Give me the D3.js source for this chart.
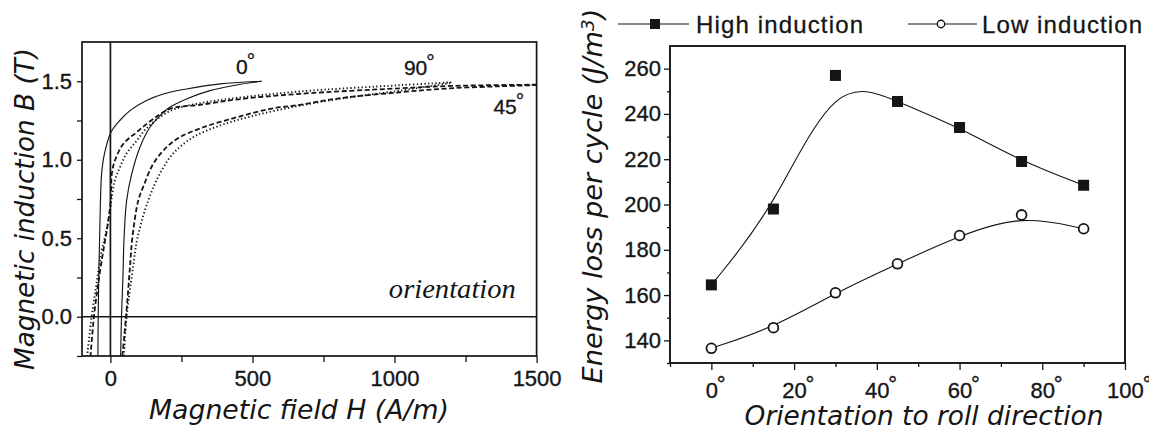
<!DOCTYPE html>
<html><head><meta charset="utf-8">
<script src="https://cdn.jsdelivr.net/npm/d3@7"></script>
<style>body{margin:0;background:#fff}svg{display:block}</style>
</head><body>
<svg id="c" width="1149" height="430"></svg>
<script>
// ---------- LEFT PANEL DATA (H in A/m, B in T) ----------
const hDomain = [-100, 1500];
const bDomain = [-0.25, 1.75];
const hMajor = [0, 500, 1000, 1500];
const hMinor = [250, 750, 1250];
const bMajor = [0, 0.5, 1.0, 1.5];
const bMinor = [-0.25, 0.25, 0.75, 1.25];

const loop0Asc = [[36,-0.25],[39,0],[44,0.25],[48,0.5],[57,0.74],[75,0.91],[104,1.08],[139,1.207],[174,1.28],[209,1.334],[268,1.387],[350,1.44],[444,1.476],[532,1.5]];
const loop0Desc = [[532,1.5],[386,1.483],[268,1.451],[186,1.419],[127,1.377],[69,1.313],[33,1.25],[2,1.175],[-22,1.03],[-31,0.91],[-35,0.74],[-38,0.5],[-41,0.25],[-43,0],[-44,-0.25]];
const loop45Asc = [[42,-0.25],[55,0],[69,0.32],[77,0.5],[98,0.74],[116,0.83],[151,0.975],[198,1.08],[245,1.144],[327,1.207],[444,1.27],[562,1.324],[667,1.35],[800,1.39],[1019,1.43],[1195,1.455],[1371,1.468],[1500,1.476]];
const loop45Desc = [[1500,1.478],[1195,1.47],[1019,1.455],[667,1.42],[450,1.385],[315,1.35],[209,1.324],[151,1.26],[92,1.175],[45,1.10],[16,0.995],[5,0.91],[1,0.74],[-10,0.58],[-25,0.42],[-43,0.21],[-58,0],[-70,-0.25]];
const loop90Asc = [[48,-0.25],[57,0],[80,0.32],[95,0.5],[133,0.74],[174,0.911],[221,1.04],[292,1.144],[386,1.218],[503,1.28],[667,1.345],[850,1.40],[1019,1.44],[1200,1.49]];
const loop90Desc = [[1200,1.493],[1019,1.475],[667,1.435],[450,1.395],[315,1.36],[209,1.31],[127,1.20],[92,1.12],[57,1.04],[33,0.95],[16,0.87],[7,0.79],[-1,0.68],[-14,0.55],[-31,0.42],[-49,0.21],[-66,0],[-82,-0.25]];

const loops = [
  {name:"0°",  asc: loop0Asc,  desc: loop0Desc,  style:"solid"},
  {name:"45°", asc: loop45Asc, desc: loop45Desc, style:"dashed"},
  {name:"90°", asc: loop90Asc, desc: loop90Desc, style:"dotted"}
];
const loopLabels = [
  {text:"0", h:442, b:1.545},
  {text:"90", h:1033, b:1.54},
  {text:"45", h:1348, b:1.29}
];
const noteText = "orientation";
const noteAt = {h:980, b:0.12};

// ---------- RIGHT PANEL DATA ----------
const angles = [0, 15, 30, 45, 60, 75, 90];
const highInduction = [164.5, 198, 257, 245.5, 234, 219, 208.5];
const lowInduction  = [136.5, 145.6, 161, 173.8, 186.3, 195.4, 189.3];
const angleDomain = [-10, 100];
const energyDomain = [130, 270];
const angleMajor = [0, 20, 40, 60, 80, 100];
const angleMinor = [-10, 10, 30, 50, 70, 90];
const energyMajor = [140, 160, 180, 200, 220, 240, 260];
const energyMinor = [130, 150, 170, 190, 210, 230, 250];
const seriesNames = ["High induction", "Low induction"];

// ---------- DRAW ----------
const ink = "#151515";
const SANS = "'Liberation Sans', Arial, sans-serif";
const TITLE = "'DejaVu Sans', Verdana, sans-serif";
const svg = d3.select("#c");

function fitWidth(sel, target) {
  const n = sel.node();
  const len = n.getComputedTextLength();
  const fs = parseFloat(sel.attr("font-size"));
  sel.attr("font-size", (fs * target / len).toFixed(2));
}
function styleAxis(g, size) {
  g.select(".domain").remove();
  g.selectAll("line").attr("stroke", ink).attr("stroke-width", 1.3);
  g.selectAll("text").attr("fill", ink).attr("font-family", SANS).attr("font-size", size)
    .attr("stroke", ink).attr("stroke-width", 0.35);
  g.attr("font-family", null).attr("font-size", null);
}

// ===== Left panel =====
const xL = d3.scaleLinear().domain(hDomain).range([82, 536.6]);
const yL = d3.scaleLinear().domain(bDomain).range([356, 42]);
const L = svg.append("g");

L.append("clipPath").attr("id","clipL").append("rect")
  .attr("x", xL(hDomain[0])).attr("y", yL(bDomain[1]))
  .attr("width", xL(hDomain[1]) - xL(hDomain[0])).attr("height", yL(bDomain[0]) - yL(bDomain[1]));

L.append("g").attr("transform", `translate(0,${yL(bDomain[0])})`)
  .call(d3.axisBottom(xL).tickValues(hMajor).tickSize(7).tickPadding(7).tickFormat(d3.format("d")))
  .call(g => styleAxis(g, 22));
L.append("g").attr("transform", `translate(0,${yL(bDomain[0])})`)
  .call(d3.axisBottom(xL).tickValues(hMinor).tickSize(6).tickFormat(""))
  .call(g => styleAxis(g, 22));
L.append("g").attr("transform", `translate(${xL(hDomain[0])},0)`)
  .call(d3.axisLeft(yL).tickValues(bMajor).tickSize(5).tickPadding(5).tickFormat(d3.format(".1f")))
  .call(g => styleAxis(g, 22));
L.append("g").attr("transform", `translate(${xL(hDomain[0])},0)`)
  .call(d3.axisLeft(yL).tickValues(bMinor).tickSize(5).tickFormat(""))
  .call(g => styleAxis(g, 22));

L.append("rect").attr("x", xL(hDomain[0])).attr("y", yL(bDomain[1]))
  .attr("width", xL(hDomain[1]) - xL(hDomain[0])).attr("height", yL(bDomain[0]) - yL(bDomain[1]))
  .attr("fill","none").attr("stroke", ink).attr("stroke-width", 1.7);
L.append("line").attr("x1", xL(hDomain[0])).attr("x2", xL(hDomain[1])).attr("y1", yL(0)).attr("y2", yL(0))
  .attr("stroke", ink).attr("stroke-width", 1.7);
L.append("line").attr("x1", xL(0)).attr("x2", xL(0)).attr("y1", yL(bDomain[0])).attr("y2", yL(bDomain[1]))
  .attr("stroke", ink).attr("stroke-width", 1.7);

const lineL = d3.line().x(d => xL(d[0])).y(d => yL(d[1])).curve(d3.curveCatmullRom.alpha(0.5));
const dash = {solid: null, dashed: "5,2.6", dotted: "1.3,2.4"};
const width = {solid: 1.15, dashed: 1.8, dotted: 1.9};
const curvesG = L.append("g").attr("clip-path", "url(#clipL)");
loops.forEach(lp => {
  [lp.asc, lp.desc].forEach(br => {
    curvesG.append("path").attr("d", lineL(br)).attr("fill","none")
      .attr("stroke", ink).attr("stroke-width", width[lp.style])
      .attr("stroke-dasharray", dash[lp.style]);
  });
});

loopLabels.forEach(lb => {
  const t = L.append("text").attr("x", xL(lb.h)).attr("y", yL(lb.b))
    .attr("font-family", SANS).attr("font-size", 21).attr("fill", ink)
    .attr("stroke", ink).attr("stroke-width", 0.3).text(lb.text);
  t.append("tspan").attr("dy", "-0.3em").attr("dx", "-0.05em").text("°");
});
L.append("text").attr("x", xL(noteAt.h)).attr("y", yL(noteAt.b))
  .attr("font-family", "'Liberation Serif', 'Times New Roman', serif").attr("font-style","italic")
  .attr("font-size", 28).attr("fill", ink).attr("textLength", 127).attr("lengthAdjust","spacingAndGlyphs")
  .text(noteText);

const tx1 = L.append("text").attr("x", 299).attr("y", 419).attr("text-anchor","middle")
  .attr("font-family", TITLE).attr("font-style","italic").attr("font-size", 26).attr("fill", ink)
  .text("Magnetic field H (A/m)");
fitWidth(tx1, 300);
const ty1 = L.append("text").attr("transform","translate(34,209) rotate(-90)").attr("text-anchor","middle")
  .attr("font-family", TITLE).attr("font-style","italic").attr("font-size", 26).attr("fill", ink)
  .text("Magnetic induction B (T)");
fitWidth(ty1, 322);

// ===== Right panel =====
const xR = d3.scaleLinear().domain(angleDomain).range([670, 1125]);
const yR = d3.scaleLinear().domain(energyDomain).range([363, 46]);
const R = svg.append("g");

R.append("g").attr("transform", `translate(0,${yR(energyDomain[0])})`)
  .call(d3.axisBottom(xR).tickValues(angleMajor).tickSize(7).tickPadding(12).tickFormat(d3.format("d")))
  .call(g => styleAxis(g, 22))
  .call(g => g.selectAll(".tick text").attr("dx", "0.17em").append("tspan").attr("dy","-0.25em").attr("dx","-0.05em").text("°"));
R.append("g").attr("transform", `translate(0,${yR(energyDomain[0])})`)
  .call(d3.axisBottom(xR).tickValues(angleMinor).tickSize(4).tickFormat(""))
  .call(g => styleAxis(g, 22));
R.append("g").attr("transform", `translate(${xR(angleDomain[0])},0)`)
  .call(d3.axisLeft(yR).tickValues(energyMajor).tickSize(6).tickPadding(3).tickFormat(d3.format("d")))
  .call(g => styleAxis(g, 22));
R.append("g").attr("transform", `translate(${xR(angleDomain[0])},0)`)
  .call(d3.axisLeft(yR).tickValues(energyMinor).tickSize(3).tickFormat(""))
  .call(g => styleAxis(g, 22));

R.append("rect").attr("x", xR(angleDomain[0])).attr("y", yR(energyDomain[1]))
  .attr("width", xR(angleDomain[1]) - xR(angleDomain[0])).attr("height", yR(energyDomain[0]) - yR(energyDomain[1]))
  .attr("fill","none").attr("stroke", ink).attr("stroke-width", 1.9);

const lineR = d3.line().x((d,i) => xR(angles[i])).y(d => yR(d)).curve(d3.curveBasis);
R.append("path").attr("d", lineR(highInduction)).attr("fill","none").attr("stroke", ink).attr("stroke-width", 1.1);
R.append("path").attr("d", lineR(lowInduction)).attr("fill","none").attr("stroke", ink).attr("stroke-width", 1.1);

const sq = 11;
R.selectAll(".sq").data(highInduction).enter().append("rect")
  .attr("x", (d,i) => xR(angles[i]) - sq/2).attr("y", d => yR(d) - sq/2)
  .attr("width", sq).attr("height", sq).attr("fill", ink);
R.selectAll(".ci").data(lowInduction).enter().append("circle")
  .attr("cx", (d,i) => xR(angles[i])).attr("cy", d => yR(d)).attr("r", 4.9)
  .attr("fill","#fff").attr("stroke", ink).attr("stroke-width", 1.8);

const legY = 24;
const leg = R.append("g");
leg.append("line").attr("x1", 618).attr("x2", 689).attr("y1", legY).attr("y2", legY).attr("stroke", ink).attr("stroke-width", 1);
leg.append("rect").attr("x", 655 - 5).attr("y", legY - 5).attr("width", 10).attr("height", 10).attr("fill", ink);
leg.append("text").attr("x", 696).attr("y", 32.5).attr("font-family", SANS).attr("font-size", 24)
  .attr("fill", ink).attr("stroke", ink).attr("stroke-width", 0.3)
  .attr("textLength", 167).attr("lengthAdjust","spacing").text(seriesNames[0]);
leg.append("line").attr("x1", 908).attr("x2", 977).attr("y1", legY).attr("y2", legY).attr("stroke", ink).attr("stroke-width", 1);
leg.append("circle").attr("cx", 941).attr("cy", legY).attr("r", 3.7).attr("fill","#fff").attr("stroke", ink).attr("stroke-width", 1.4);
leg.append("text").attr("x", 982).attr("y", 32.5).attr("font-family", SANS).attr("font-size", 24)
  .attr("fill", ink).attr("stroke", ink).attr("stroke-width", 0.3)
  .attr("textLength", 160).attr("lengthAdjust","spacing").text(seriesNames[1]);

const tx2 = R.append("text").attr("x", 924).attr("y", 425).attr("text-anchor","middle")
  .attr("font-family", TITLE).attr("font-style","italic").attr("font-size", 26).attr("fill", ink)
  .text("Orientation to roll direction");
fitWidth(tx2, 359);
const ty2 = R.append("text").attr("transform","translate(602,196) rotate(-90)").attr("text-anchor","middle")
  .attr("font-family", TITLE).attr("font-style","italic").attr("font-size", 26).attr("fill", ink);
ty2.append("tspan").text("Energy loss per cycle (J/m");
ty2.append("tspan").attr("dy","-0.45em").attr("font-size","0.68em").text("3");
ty2.append("tspan").attr("dy","0.3em").text(")");
fitWidth(ty2, 375);
</script>
</body></html>
